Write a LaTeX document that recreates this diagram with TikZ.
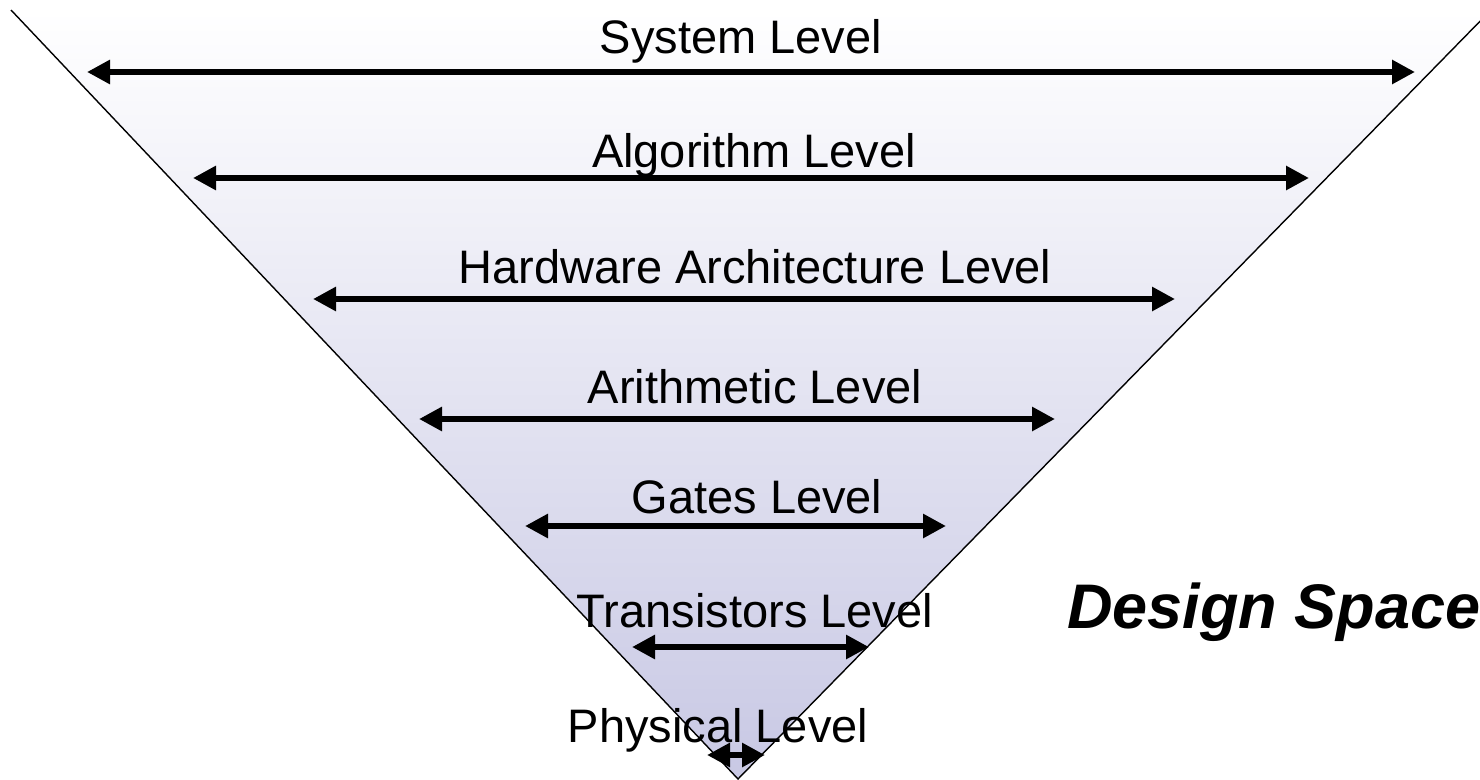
\documentclass[tikz,border=0pt]{standalone}
\usepackage{fontspec}
\setmainfont{Liberation Sans}
\usetikzlibrary{arrows.meta}
\definecolor{funnelbottom}{RGB}{200,200,228}
\begin{document}
\begin{tikzpicture}[x=1pt,y=-1pt,
  level/.style={font=\fontsize{47}{56}\selectfont, anchor=base, inner sep=0pt},
  span/.style={line width=6.5pt,
    {Triangle[length=23pt,width=23pt]}-{Triangle[length=23pt,width=23pt]}},
  edge/.style={line width=1.4pt}]
\useasboundingbox (0,0) rectangle (1480,779);
\clip (0,0) rectangle (1480,779);

% the funnel of the design space
\coordinate (tl) at (11,10);
\coordinate (apex) at (738,779);
\coordinate (tr) at (1491,10);
\shade[top color=white,bottom color=funnelbottom] (tl) -- (apex) -- (tr) -- cycle;
\draw[edge] (tl) -- (apex) -- (tr);

% level names
\node[level] (lvSystem) at (741,53) {System Level};
\node[level] (lvAlgo) at (754,167) {Algorithm Level};
\node[level] (lvHw) at (755,283) {Hardware Architecture Level};
\node[level] (lvArith) at (755,403) {Arithmetic Level};
\node[level] (lvGates) at (757,513) {Gates Level};
\node[level] (lvTrans) at (755,627) {Transistors Level};
\node[level] (lvPhys) at (718,742) {Physical Level};

% spans of each level
\coordinate (sysL) at (87,72);    \coordinate (sysR) at (1415,72);
\coordinate (algoL) at (193,178); \coordinate (algoR) at (1309,178);
\coordinate (hwL) at (313,299);   \coordinate (hwR) at (1175,299);
\coordinate (arL) at (419,419);   \coordinate (arR) at (1055,419);
\coordinate (gaL) at (525,526);   \coordinate (gaR) at (946,526);
\coordinate (trL) at (632,647);   \coordinate (trR) at (869,647);
\coordinate (phL) at (707,755);   \coordinate (phR) at (765,755);
\draw[span] (sysL) -- (sysR);
\draw[span] (algoL) -- (algoR);
\draw[span] (hwL) -- (hwR);
\draw[span] (arL) -- (arR);
\draw[span] (gaL) -- (gaR);
\draw[span] (trL) -- (trR);
\draw[span] (phL) -- (phR);

\node[font=\fontsize{63}{72}\selectfont\bfseries\itshape, anchor=base west, inner sep=0pt]
  (space) at (1067,628) {Design Space};
\end{tikzpicture}
\end{document}
